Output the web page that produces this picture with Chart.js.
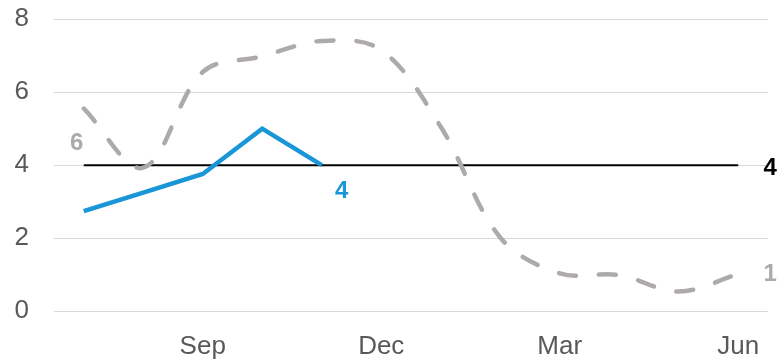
<!DOCTYPE html>
<html>
<head>
<meta charset="utf-8">
<script src="https://cdn.jsdelivr.net/npm/chart.js@4"></script>
<style>
  html, body { margin: 0; padding: 0; background: #fff; }
  #wrap { width: 779px; height: 363px; position: relative; }
</style>
</head>
<body>
<div id="wrap"><canvas id="chart"></canvas></div>
<script>
"use strict";

// Months shown on the category axis (only every third one is labelled)
const months = ["Jul", "Aug", "Sep", "Oct", "Nov", "Dec", "Jan", "Feb", "Mar", "Apr", "May", "Jun"];
const shownMonths = ["Sep", "Dec", "Mar", "Jun"];

// Series values
const actual = [2.74, 3.25, 3.76, 5.0, 4.0, null, null, null, null, null, null, null];
const lastYear = [5.55, 3.93, 6.55, 6.98, 7.4, 7.15, 5.05, 2.02, 1.04, 0.99, 0.54, 1.02];
const target = [4, 4, 4, 4, 4, 4, 4, 4, 4, 4, 4, 4];

const yTicks = [0, 2, 4, 6, 8];

// Data labels: which point, and where to put it relative to the point
const pointLabels = [
  { dataset: 1, index: 0, dx: -7, dy: 35, color: "#AEAAAA" },
  { dataset: 0, index: 4, dx: 20, dy: 26, color: "#1996D7" },
  { dataset: 2, index: 11, dx: 32, dy: 3, color: "#000000" },
  { dataset: 1, index: 11, dx: 32, dy: 0, color: "#AEAAAA" },
];

const labelPlugin = {
  id: "pointLabels",
  afterDatasetsDraw(chart) {
    const ctx = chart.ctx;
    ctx.save();
    ctx.font = "bold 24px 'Liberation Sans', Arial, sans-serif";
    ctx.textAlign = "center";
    ctx.textBaseline = "middle";
    pointLabels.forEach((l) => {
      const pt = chart.getDatasetMeta(l.dataset).data[l.index];
      const val = chart.data.datasets[l.dataset].data[l.index];
      if (!pt || val == null) return;
      ctx.fillStyle = l.color;
      ctx.fillText(String(Math.round(val)), pt.x + l.dx, pt.y + l.dy);
    });
    ctx.restore();
  },
};

new Chart(document.getElementById("chart").getContext("2d"), {
  type: "line",
  data: {
    labels: months,
    datasets: [
      {
        label: "Actual",
        data: actual,
        borderColor: "#1996D7",
        borderWidth: 4.5,
        tension: 0,
        pointRadius: 0,
        spanGaps: false,
        fill: false,
      },
      {
        label: "Last year",
        data: lastYear,
        borderColor: "#AEAAAA",
        borderWidth: 4.5,
        borderDash: [17, 23],
        borderCapStyle: "round",
        tension: 0.35,
        pointRadius: 0,
        fill: false,
      },
      {
        label: "Target",
        data: target,
        borderColor: "#000000",
        borderWidth: 2,
        tension: 0,
        pointRadius: 0,
        fill: false,
      },
    ],
  },
  options: {
    responsive: true,
    maintainAspectRatio: false,
    animation: false,
    layout: { padding: { left: 0, right: 11, top: 19, bottom: 0 } },
    plugins: {
      legend: { display: false },
      tooltip: { enabled: false },
    },
    scales: {
      x: {
        type: "category",
        offset: true,
        grid: { display: false, drawTicks: false },
        border: { display: false },
        ticks: {
          autoSkip: false,
          maxRotation: 0,
          padding: 20,
          color: "#595959",
          font: { family: "'Liberation Sans', Arial, sans-serif", size: 26 },
          callback: (v, i) => (shownMonths.includes(months[i]) ? months[i] : ""),
        },
        afterFit: (scale) => {
          scale.height = 51.7;
          scale.paddingLeft = 0;
          scale.paddingRight = 0;
        },
      },
      y: {
        min: 0,
        max: 8,
        grid: { color: "#D9D9D9", lineWidth: 1, drawTicks: false },
        border: { display: false },
        afterBuildTicks: (scale) => { scale.ticks = yTicks.map((v) => ({ value: v })); },
        ticks: {
          padding: 25,
          color: "#595959",
          font: { family: "'Liberation Sans', Arial, sans-serif", size: 26 },
        },
        afterFit: (scale) => {
          scale.width = 54;
          scale.paddingTop = 0;
          scale.paddingBottom = 0;
        },
      },
    },
  },
  plugins: [labelPlugin],
});
</script>
</body>
</html>
